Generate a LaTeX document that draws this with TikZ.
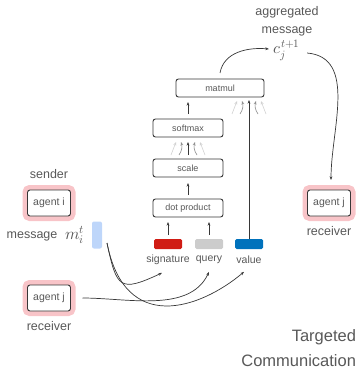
\documentclass[tikz,border=0pt]{standalone}
\usepackage{fontspec}
\usepackage{unicode-math}
\setmainfont{Liberation Sans}
\setmathfont{Latin Modern Math}
\usetikzlibrary{arrows.meta}

\definecolor{txtgray}{RGB}{88,88,88}
\definecolor{linegray}{RGB}{55,55,55}
\definecolor{agentpink}{RGB}{248,196,200}
\definecolor{msgblue}{RGB}{190,214,250}
\definecolor{sigred}{RGB}{208,28,20}
\definecolor{querygray}{RGB}{204,204,204}
\definecolor{valueblue}{RGB}{0,114,188}

\begin{document}
\begin{tikzpicture}[x=1pt,y=-1pt,
  every node/.style={text=txtgray, inner sep=0pt, outer sep=0pt},
  arr/.style={-{Stealth[length=3.6pt,width=2.8pt]}, draw=linegray, line width=0.7pt},
  fadeA/.style={arr, draw=black!18, line width=0.6pt},
  fadeB/.style={arr, draw=black!45, line width=0.6pt},
  opbox/.style={draw=linegray, line width=0.9pt, rounded corners=2.5pt, fill=white,
    minimum width=70pt, minimum height=18pt, font=\fontsize{9}{10}\selectfont},
  agent/.style={draw=linegray, line width=0.9pt, rounded corners=2.5pt, fill=white,
    minimum width=43pt, minimum height=26pt, font=\fontsize{10.5}{12}\selectfont,
    preaction={draw=agentpink, line width=10pt}},
  bar/.style={rounded corners=1.5pt, minimum width=28pt, minimum height=10pt},
  lbl/.style={font=\fontsize{12.5}{18}\selectfont},
  small/.style={font=\fontsize{10.5}{12}\selectfont}]
\useasboundingbox (0,0) rectangle (359,369);

% attention stack
\node[opbox, minimum width=88pt] (matmul) at (220,88) {matmul};
\node[opbox] (softmax) at (188,128) {softmax};
\node[opbox] (scale) at (188,168) {scale};
\node[opbox] (dot) at (188,208) {dot product};

\node[bar, fill=sigred] (sig) at (168,244) {};
\node[bar, fill=querygray] (query) at (209,244) {};
\node[bar, fill=valueblue] (value) at (249,244) {};
\node[small] (siglbl) at (168,260) {signature};
\node[small] (querylbl) at (209,260) {query};
\node[small] (valuelbl) at (249,260) {value};

\draw[arr] ([yshift=4pt]sig.north) -- ([yshift=-5pt]sig.north |- dot.south);
\draw[arr] ([yshift=4pt]query.north) -- ([yshift=-5pt]query.north |- dot.south);
\draw[arr] ([yshift=4pt]dot.north) -- ([yshift=-6pt]scale.south);

% scale -> softmax
\draw[fadeA] ([xshift=-17pt,yshift=4pt]scale.north) -- ([xshift=-12pt,yshift=-5pt]softmax.south);
\draw[fadeB] ([xshift=-9pt,yshift=4pt]scale.north) to[bend right=25] ([xshift=-7pt,yshift=-5pt]softmax.south);
\draw[arr] ([yshift=4pt]scale.north) -- ([yshift=-5pt]softmax.south);
\draw[fadeB] ([xshift=9pt,yshift=4pt]scale.north) to[bend left=25] ([xshift=7pt,yshift=-5pt]softmax.south);
\draw[fadeA] ([xshift=17pt,yshift=4pt]scale.north) -- ([xshift=12pt,yshift=-5pt]softmax.south);

\draw[arr] ([yshift=5pt]softmax.north) -- ([yshift=-5pt]softmax.north |- matmul.south);

% value -> matmul
\draw[arr] (value.north) -- ([yshift=-3pt]value.north |- matmul.south);
\draw[fadeA] ([xshift=-17pt,yshift=-17pt]value.north |- matmul.south) -- ([xshift=-12pt,yshift=-4pt]value.north |- matmul.south);
\draw[fadeB] ([xshift=-9pt,yshift=-17pt]value.north |- matmul.south) to[bend right=25] ([xshift=-7pt,yshift=-4pt]value.north |- matmul.south);
\draw[fadeB] ([xshift=9pt,yshift=-17pt]value.north |- matmul.south) to[bend left=25] ([xshift=7pt,yshift=-4pt]value.north |- matmul.south);
\draw[fadeA] ([xshift=17pt,yshift=-17pt]value.north |- matmul.south) -- ([xshift=12pt,yshift=-4pt]value.north |- matmul.south);

% aggregated message
\node[lbl, align=center] (agglbl) at (287,21) {aggregated\\message};
\node[font=\fontsize{16}{18}\selectfont] (cj) at (287,50) {$c_j^{t+1}$};
\draw[arr] ([yshift=6pt]matmul.north) to[out=80, in=175] ([xshift=-5pt,yshift=1pt]cj.west);

% agents
\node[agent] (agenti) at (49,203) {agent i};
\node[lbl] (sender) at (49,174) {sender};
\node[agent] (agentj) at (49,298) {agent j};
\node[lbl] (recvl) at (49,326) {receiver};
\node[agent] (agentjr) at (329,203) {agent j};
\node[lbl] (recvr) at (329,231) {receiver};

\node[lbl] (msglbl) at (32,236) {message};
\node[font=\fontsize{16.5}{18}\selectfont] (mit) at (75,235) {$m_i^t$};
\node[rounded corners=2pt, fill=msgblue, minimum width=10pt, minimum height=27pt] (msg) at (97,235) {};

\draw[arr] ([xshift=7pt,yshift=-3pt]cj.east) to[out=-5, in=90] ([xshift=2pt,yshift=10pt]agentjr.north);

% message -> signature / value, receiver -> query
\draw[arr] ([xshift=5pt,yshift=-8pt]msg.east) to[out=-78, in=205, looseness=1.9] ([xshift=-6pt,yshift=-8pt]siglbl.south);
\draw[arr] ([xshift=5pt,yshift=-8pt]msg.east) .. controls +(18,92) and +(-44,37) .. ([xshift=-5pt,yshift=-8pt]valuelbl.south);
\draw[arr] ([xshift=12pt]agentj.east) to[out=0, in=245, looseness=0.9] ([yshift=-8pt]querylbl.south);

\node[align=right, anchor=east, font=\fontsize{16.5}{25}\selectfont] (title) at (356,348) {Targeted\\Communication};
\end{tikzpicture}
\end{document}
